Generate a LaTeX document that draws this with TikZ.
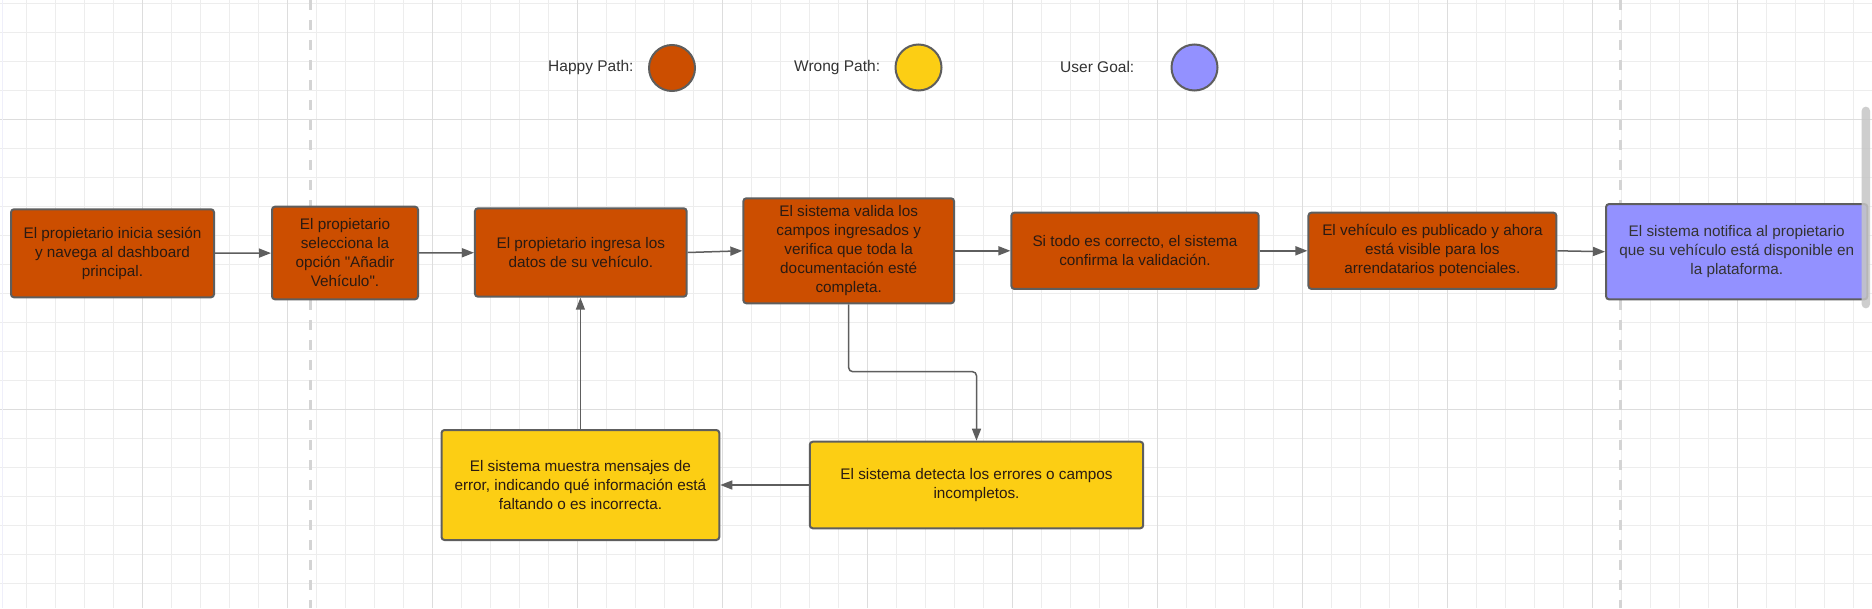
\documentclass[tikz,border=0pt]{standalone}
\usepackage{fontspec}
\setmainfont{Liberation Sans}
\usetikzlibrary{arrows.meta}
\definecolor{hporange}{HTML}{CC4E00}
\definecolor{wpyellow}{HTML}{FCCE14}
\definecolor{ugpurple}{HTML}{9391FF}
\definecolor{edge}{HTML}{5E5E5E}
\definecolor{gridminor}{HTML}{EDEDED}
\definecolor{gridmajor}{HTML}{DDDDDD}
\definecolor{dashgray}{HTML}{D4D4D4}
\definecolor{txt}{HTML}{2A1A12}
\tikzset{
  box/.style={draw=edge, line width=2pt, rounded corners=3pt, inner sep=0pt, align=center,
    font=\fontsize{15.3}{19}\selectfont, text=txt},
  hp/.style={box, fill=hporange},
  wp/.style={box, fill=wpyellow},
  ug/.style={box, fill=ugpurple, text=black!80},
  legdot/.style={circle, draw=edge, line width=2pt, minimum size=46pt, inner sep=0pt},
  legtext/.style={font=\fontsize{15.5}{19}\selectfont, text=black!80, inner sep=0pt},
  arr/.style={draw=edge, line width=1.5pt, -{Triangle[length=12pt,width=9pt]}},
  minorline/.style={draw=gridminor, line width=1pt},
  majorline/.style={draw=gridmajor, line width=1pt},
  sepline/.style={draw=dashgray, line width=3pt, dash pattern=on 10pt off 10pt}
}
\begin{document}
\begin{tikzpicture}[x=1pt,y=-1pt]
\fill[white] (0,0) rectangle (1872,608);
\useasboundingbox (0,0) rectangle (1872,608);
% grid
\foreach \i in {0,...,64} \draw[minorline] ({26.5+29*\i},0) -- ({26.5+29*\i},608);
\foreach \j in {0,...,20} \draw[minorline] (0,{3.5+29*\j}) -- (1872,{3.5+29*\j});
\foreach \k in {0,...,11} \draw[majorline] ({142.5+145*\k},0) -- ({142.5+145*\k},608);
\draw[majorline] (0,119.5) -- (1872,119.5);
\draw[majorline] (0,409.5) -- (1872,409.5);
\draw[draw=gridmajor!80!blue!20, line width=1.5pt] (2.7,0) -- (2.7,608);
\draw[sepline] (310.4,0) -- (310.4,608);
\draw[sepline] (1620.3,0) -- (1620.3,608);
% legend
\node[legtext, anchor=west] (l1) at (548,67.5) {Happy Path:};
\node[legdot, fill=hporange] (c1) at (672,68) {};
\node[legtext, anchor=west] (l2) at (794,67) {Wrong Path:};
\node[legdot, fill=wpyellow] (c2) at (918.5,67.5) {};
\node[legtext, anchor=west] (l3) at (1060,67) {User Goal:};
\node[legdot, fill=ugpurple] (c3) at (1194.5,67.5) {};
% boxes
\node[hp, minimum width=203pt, minimum height=88pt] (b1) at (112.5,253.3)
  {El propietario inicia sesión\\y navega al dashboard\\principal.};
\node[hp, minimum width=146pt, minimum height=92.6pt] (b2) at (345,253)
  {El propietario\\selecciona la\\opción \textquotedbl Añadir\\Vehículo\textquotedbl.};
\node[hp, minimum width=211.7pt, minimum height=88.4pt] (b3) at (580.8,252.5)
  {El propietario ingresa los\\datos de su vehículo.};
\node[hp, minimum width=210.7pt, minimum height=105pt] (b4) at (848.7,250.8)
  {El sistema valida los\\campos ingresados y\\verifica que toda la\\documentación esté\\completa.};
\node[hp, minimum width=247.2pt, minimum height=76.3pt] (b5) at (1135,250.8)
  {Si todo es correcto, el sistema\\confirma la validación.};
\node[hp, minimum width=247.9pt, minimum height=76.3pt] (b6) at (1432.4,250.8)
  {El vehículo es publicado y ahora\\está visible para los\\arrendatarios potenciales.};
\node[ug, minimum width=261.3pt, minimum height=95.3pt] (b7) at (1736.7,251.7)
  {El sistema notifica al propietario\\que su vehículo está disponible en\\la plataforma.};
\node[wp, minimum width=277.8pt, minimum height=110pt] (b8) at (580.4,485)
  {El sistema muestra mensajes de\\error, indicando qué información está\\faltando o es incorrecta.};
\node[wp, minimum width=333.4pt, minimum height=86.6pt] (b9) at (976.5,485)
  {El sistema detecta los errores o campos\\incompletos.};
% connectors
\draw[arr] (b1) -- (b2);
\draw[arr] (b2) -- (b3);
\draw[arr] (b3.east) -- (b4.west);
\draw[arr] (b4) -- (b5);
\draw[arr] (b5) -- (b6);
\draw[arr] (b6.east) -- (b7.west);
\coordinate (elb) at (0,371.7);
\draw[arr, rounded corners=4pt] (b4.south) |- (elb -| b9.north) -- (b9.north);
\draw[arr] (b9.west) -- (b8.east);
\draw[arr] (b8.north) -- (b8.north |- b3.south);
% scrollbar
\fill[gray!45, opacity=0.85, rounded corners=4pt] (1861.7,106.7) rectangle (1870,308.3);
\end{tikzpicture}
\end{document}
